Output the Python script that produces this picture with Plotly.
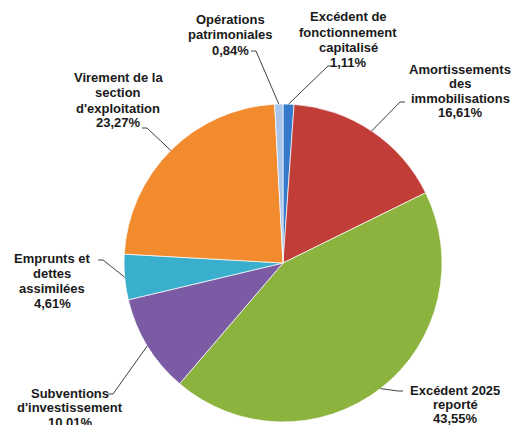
import math
import plotly.graph_objects as go

# ---- data ----
categories = [
    "Excédent de fonctionnement capitalisé",
    "Amortissements des immobilisations",
    "Excédent 2025 reporté",
    "Subventions d'investissement",
    "Emprunts et dettes assimilées",
    "Virement de la section d'exploitation",
    "Opérations patrimoniales",
]
values = [1.11, 16.61, 43.55, 10.01, 4.61, 23.27, 0.84]
label_lines = [
    ["Excédent de", "fonctionnement", "capitalisé", "1,11%"],
    ["Amortissements", "des", "immobilisations", "16,61%"],
    ["Excédent 2025", "reporté", "43,55%"],
    ["Subventions", "d'investissement", "10,01%"],
    ["Emprunts et", "dettes", "assimilées", "4,61%"],
    ["Virement de la", "section", "d'exploitation", "23,27%"],
    ["Opérations", "patrimoniales", "0,84%"],
]
colors = ["#3479cc", "#c13d38", "#8db33f", "#7b5ba4", "#3aaecd", "#f28a2e", "#a9c5ea"]

# ---- layout (page pixels; the page body adds an 8px offset) ----
W, H = 524, 425
OFF = 8
CX, CY, R = 283, 263, 159
text_x = [348, 460, 455, 70, 52, 118, 230]
text_y0 = [17, 69, 390, 393, 258, 78, 20]
line_step = [15, 14.6, 14, 14.5, 15, 15, 15]
line_end = [(333, 66), (405, 102), (403, 391), (108, 394), (98, 260), (142, 128), (251, 51)]
hook_dir = [1, 1, 1, -1, -1, -1, -1]

def to_paper(px, py):
    return (px - OFF) / W, 1 - (py - OFF) / H

fig = go.Figure()
fig.add_trace(go.Pie(
    labels=categories,
    values=values,
    sort=False,
    direction="clockwise",
    rotation=0,
    textinfo="none",
    hoverinfo="label+percent",
    marker=dict(colors=colors, line=dict(color="rgba(255,255,255,0.7)", width=1)),
    domain=dict(x=[(CX - R - OFF) / W, (CX + R - OFF) / W],
                y=[1 - (CY + R - OFF) / H, 1 - (CY - R - OFF) / H]),
    showlegend=False,
))

total = sum(values)
cum = 0.0
shapes = []
annotations = []
for i, v in enumerate(values):
    mid = (cum + v / 2) / total * 2 * math.pi
    cum += v
    tx = CX + R * math.sin(mid)
    ty = CY - R * math.cos(mid)
    ex, ey = line_end[i]
    hx = ex - 5 * hook_dir[i]
    x0, y0 = to_paper(tx, ty)
    x1, y1 = to_paper(hx, ey)
    x2, y2 = to_paper(ex, ey)
    shapes.append(dict(type="path", xref="paper", yref="paper",
                       path=f"M {x0} {y0} L {x1} {y1} L {x2} {y2}",
                       line=dict(color="#404040", width=1)))
    for k, line in enumerate(label_lines[i]):
        ax, ay = to_paper(text_x[i], text_y0[i] + k * line_step[i])
        annotations.append(dict(x=ax, y=ay, xref="paper", yref="paper", text=line,
                                showarrow=False, xanchor="center", yanchor="middle",
                                font=dict(family="Liberation Sans, Arial, sans-serif", size=13,
                                          color="#1a1a1a", weight="bold")))

fig.update_layout(
    width=W, height=H,
    margin=dict(l=0, r=0, t=0, b=0),
    paper_bgcolor="white",
    plot_bgcolor="white",
    shapes=shapes,
    annotations=annotations,
)
fig.write_html("out.html")
